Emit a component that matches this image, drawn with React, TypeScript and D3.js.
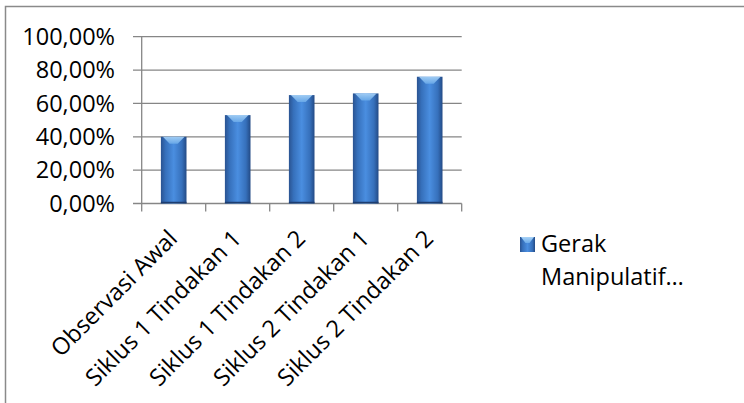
import { scaleBand, scaleLinear, format } from "d3";

const W = 744;
const H = 403;

const categories = [
  "Observasi Awal",
  "Siklus 1 Tindakan 1",
  "Siklus 1 Tindakan 2",
  "Siklus 2 Tindakan 1",
  "Siklus 2 Tindakan 2",
];
const values = [0.4, 0.53, 0.65, 0.66, 0.76];
const yTicks = [0, 0.2, 0.4, 0.6, 0.8, 1];
const legendLines = ["Gerak", "Manipulatif…"];

const FONT = "'Open Sans', sans-serif";
const FS = 23.5;
const grid = "#868686";

const pct = (v: number) => format(".2%")(v).replace(".", ",");

export default function App() {
  const x = scaleBand<string>().domain(categories).range([141.7, 461.7]);
  const y = scaleLinear().domain([0, 1]).range([203.5, 36.7]);
  const bw = x.bandwidth() * 0.4;

  return (
    <svg width={W} height={H} style={{ position: "absolute", left: 0, top: 0 }}>
      <defs>
        <linearGradient id="barGrad" x1="0" x2="1" y1="0" y2="0">
          <stop offset="0%" stopColor="#2a5391" />
          <stop offset="18%" stopColor="#3670bb" />
          <stop offset="50%" stopColor="#4a8ee0" />
          <stop offset="82%" stopColor="#3670bb" />
          <stop offset="100%" stopColor="#234a85" />
        </linearGradient>
        <linearGradient id="capGrad" x1="0" x2="0" y1="0" y2="1">
          <stop offset="0%" stopColor="#a9d3f7" />
          <stop offset="100%" stopColor="#6aaae9" />
        </linearGradient>
      </defs>
      <rect x={0} y={0} width={W} height={H} fill="#fff" />
      <rect x={5.5} y={6.5} width={W + 10} height={H + 10} fill="none" stroke="#8a8a8a" strokeWidth={1.5} />

      {yTicks.map((t) => (
        <g key={t}>
          <line x1={133} x2={461.7} y1={y(t)} y2={y(t)} stroke={grid} strokeWidth={1.3} />
          <text x={115} y={y(t)} dy="0.35em" textAnchor="end" fontFamily={FONT} fontSize={FS} fill="#000">
            {pct(t)}
          </text>
        </g>
      ))}
      <line x1={141.7} x2={141.7} y1={y(1)} y2={y(0)} stroke={grid} strokeWidth={1.3} />
      {[...categories.map((c) => x(c) as number), 461.7].map((p, i) => (
        <line key={i} x1={p} x2={p} y1={y(0)} y2={y(0) + 8} stroke={grid} strokeWidth={1.3} />
      ))}

      {categories.map((c, i) => {
        const cx = (x(c) as number) + x.bandwidth() / 2;
        const top = y(values[i]);
        const bx = cx - bw / 2;
        return (
          <g key={c}>
            <rect x={bx} y={top} width={bw} height={y(0) - top} fill="url(#barGrad)" />
            <polygon
              points={`${bx + 2},${top} ${bx + bw - 2},${top} ${cx + 4},${top + 7} ${cx - 4},${top + 7}`}
              fill="url(#capGrad)"
              opacity={0.9}
            />
            <line x1={bx} x2={bx + bw} y1={y(0) - 1} y2={y(0) - 1} stroke="#1d3d70" strokeWidth={1.5} />
          </g>
        );
      })}

      {categories.map((c) => {
        const cx = (x(c) as number) + x.bandwidth() / 2 + 5;
        return (
          <text
            key={c}
            transform={`translate(${cx},240) rotate(-45)`}
            textAnchor="end"
            fontFamily={FONT}
            fontSize={FS}
            fill="#000"
          >
            {c}
          </text>
        );
      })}

      <rect x={520} y={237} width={15} height={15} fill="url(#barGrad)" />
      <polygon points="521,237 534,237 529.5,243 525.5,243" fill="url(#capGrad)" />
      {legendLines.map((l, i) => (
        <text key={l} x={541} y={251.5 + i * 33} fontFamily={FONT} fontSize={FS} fill="#000">
          {l}
        </text>
      ))}
    </svg>
  );
}
